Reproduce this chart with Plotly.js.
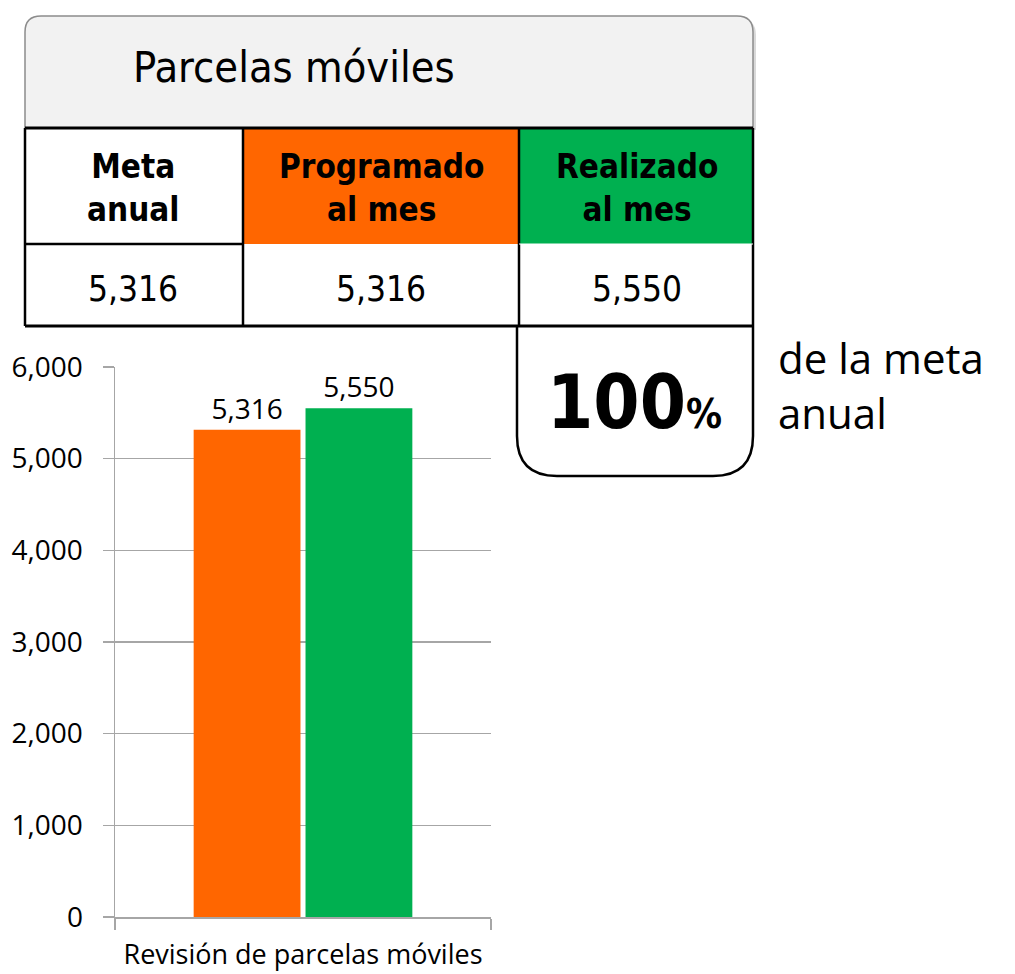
<!DOCTYPE html>
<html><head><meta charset="utf-8">
<script src="https://cdn.plot.ly/plotly-3.0.1.min.js"></script>
<style>html,body{margin:0;padding:0;background:#fff;}</style>
</head><body>
<div id="chart" style="width:1015px;height:974px;"></div>
<script>
// ---- data ----
const categories = ["Revisión de parcelas móviles"];
const seriesNames = ["Programado al mes", "Realizado al mes"];
const programado = [5316];
const realizado = [5550];
const metaAnual = 5316;
const porcentaje = 100;
const tableTitle = "Parcelas móviles";
const headers = ["Meta<br>anual", "Programado<br>al mes", "Realizado<br>al mes"];
const tableValues = [metaAnual, programado[0], realizado[0]];
const yTicks = [0, 1000, 2000, 3000, 4000, 5000, 6000];

const fmt = v => v.toLocaleString('en-US');

// ---- layout helpers (pixel -> paper) ----
const L = 115, R = 491, T = 367, B = 917;
const px = x => (x - L) / (R - L);
const py = y => (B - y) / (B - T);

const orange = '#ff6600', green = '#00b050';
const chartFont = "Open Sans, Noto Sans, sans-serif";
const tblFont = "Liberation Sans Narrow, DejaVu Sans Condensed, sans-serif";

const traces = [
  {type:'bar', name:seriesNames[0], x:categories, y:programado, marker:{color:orange},
   text:programado.map(fmt), textposition:'outside', cliponaxis:false, constraintext:'none',
   textfont:{family:chartFont, size:28, color:'#000'}, hoverinfo:'y'},
  {type:'bar', name:seriesNames[1], x:categories, y:realizado, marker:{color:green},
   text:realizado.map(fmt), textposition:'outside', cliponaxis:false, constraintext:'none',
   textfont:{family:chartFont, size:28, color:'#000'}, hoverinfo:'y'}
];

const shapes = [];
const ann = [];
const line = (x0,y0,x1,y1,w,c) => shapes.push({type:'line', xref:'paper', yref:'paper',
  x0:px(x0), y0:py(y0), x1:px(x1), y1:py(y1), line:{color:c||'#000', width:w||2.5}, layer:'above'});
const rect = (x0,y0,x1,y1,fill) => shapes.push({type:'rect', xref:'paper', yref:'paper',
  x0:px(x0), y0:py(y0), x1:px(x1), y1:py(y1), fillcolor:fill, line:{width:0}, layer:'above'});

// title box (rounded top) with soft shadow
const rad = 16;
function roundTop(x0,y0,x1,y1,r){
  return `M ${px(x0)} ${py(y1)} L ${px(x0)} ${py(y0+r)} Q ${px(x0)} ${py(y0)} ${px(x0+r)} ${py(y0)} ` +
         `L ${px(x1-r)} ${py(y0)} Q ${px(x1)} ${py(y0)} ${px(x1)} ${py(y0+r)} L ${px(x1)} ${py(y1)} Z`;
}
shapes.push({type:'path', xref:'paper', yref:'paper', path:roundTop(27,19,756,130,rad),
  fillcolor:'#bfbfbf', line:{width:0}, layer:'above', opacity:0.6});
shapes.push({type:'path', xref:'paper', yref:'paper', path:roundTop(25,16,753,128,rad),
  fillcolor:'#f2f2f2', line:{color:'#8c8c8c', width:1.5}, layer:'above'});

// header cells
rect(25,128,243,244,'#ffffff');
rect(243,128,519,244,orange);
rect(519,128,753,244,green);
rect(25,244,753,326,'#ffffff');

// percentage box (rounded bottom)
function roundBottom(x0,y0,x1,y1,r){
  return `M ${px(x0)} ${py(y0)} L ${px(x0)} ${py(y1-r)} Q ${px(x0)} ${py(y1)} ${px(x0+r)} ${py(y1)} ` +
         `L ${px(x1-r)} ${py(y1)} Q ${px(x1)} ${py(y1)} ${px(x1)} ${py(y1-r)} L ${px(x1)} ${py(y0)}`;
}
shapes.push({type:'path', xref:'paper', yref:'paper', path:roundBottom(517,326,753,476,40),
  fillcolor:'#ffffff', line:{color:'#000', width:2.5}, layer:'above'});

// table grid lines
line(25,128,753,128,3);
line(25,128,25,326);
line(243,128,243,326);
line(519,128,519,326);
line(753,128,753,326);
line(25,244,243,244);
line(519,244,753,244,1,'#ffffff');
line(25,326,753,326,3);

// texts
ann.push({xref:'paper', yref:'paper', x:px(294), y:py(67), text:tableTitle, showarrow:false,
  font:{family:tblFont, size:43, color:'#000'}, xanchor:'center', yanchor:'middle'});
const colCenters = [133, 381, 637];
headers.forEach((h,i)=>ann.push({xref:'paper', yref:'paper', x:px(colCenters[i]), y:py(188),
  text:'<b>'+h+'</b>', showarrow:false, font:{family:tblFont, size:33, color:'#000'},
  xanchor:'center', yanchor:'middle'}));
tableValues.forEach((v,i)=>ann.push({xref:'paper', yref:'paper', x:px(colCenters[i]), y:py(289),
  text:fmt(v), showarrow:false, font:{family:tblFont, size:35, color:'#000'},
  xanchor:'center', yanchor:'middle'}));
ann.push({xref:'paper', yref:'paper', x:px(634), y:py(402),
  text:'<b>'+porcentaje+'<span style="font-size:40px">%</span></b>', showarrow:false,
  font:{family:tblFont, size:74, color:'#000'}, xanchor:'center', yanchor:'middle'});
ann.push({xref:'paper', yref:'paper', x:px(776), y:py(385),
  text:'de la meta<br>anual', showarrow:false, align:'left',
  font:{family:chartFont, size:42, color:'#000'}, xanchor:'left', yanchor:'middle'});

const layout = {
  width:1015, height:974,
  margin:{l:L, r:1015-R, t:T, b:974-B},
  paper_bgcolor:'#ffffff', plot_bgcolor:'#ffffff',
  showlegend:false,
  barmode:'group', bargap:0.405, bargroupgap:0.045,
  font:{family:chartFont, color:'#000'},
  xaxis:{type:'category', showline:true, linecolor:'#a6a6a6', linewidth:1.5,
    ticks:'outside', tickson:'boundaries', ticklen:11, tickcolor:'#a6a6a6', tickwidth:1.5,
    ticklabelstandoff:13, tickangle:0, automargin:false,
    tickfont:{family:chartFont, size:27, color:'#000'}, showgrid:false, zeroline:false},
  yaxis:{range:[0,6000], tickvals:yTicks, ticktext:yTicks.map(fmt),
    showline:true, linecolor:'#a6a6a6', linewidth:1.5, ticks:'outside', ticklen:11,
    tickcolor:'#a6a6a6', tickwidth:1.5, gridcolor:'#a6a6a6', gridwidth:1.5, zeroline:false,
    ticklabelstandoff:14, automargin:false,
    tickfont:{family:chartFont, size:28, color:'#000'}},
  shapes:shapes, annotations:ann
};

Plotly.newPlot('chart', traces, layout, {displayModeBar:false, staticPlot:true});
</script>
</body></html>
